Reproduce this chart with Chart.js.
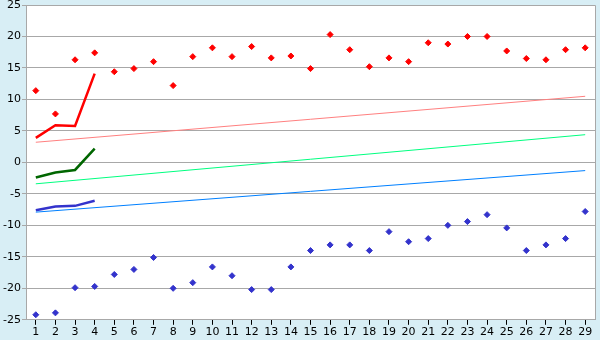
<!DOCTYPE html>
<html>
<head>
<meta charset="utf-8">
<script src="https://cdn.jsdelivr.net/npm/chart.js@4"></script>
<style>
  html, body { margin: 0; padding: 0; background: #d8eef5; }
  #wrap { width: 600px; height: 340px; }
</style>
</head>
<body>
<div id="wrap"><canvas id="c" width="600" height="340"></canvas></div>
<script>
const categories = ['1','2','3','4','5','6','7','8','9','10','11','12','13','14','15','16','17','18','19','20','21','22','23','24','25','26','27','28','29'];
const maxPoints = [11.4, 7.7, 16.3, 17.4, 14.4, 14.9, 16.0, 12.2, 16.8, 18.2, 16.8, 18.4, 16.6, 16.9, 14.9, 20.3, 17.9, 15.2, 16.6, 16.0, 19.0, 18.8, 20.0, 20.0, 17.7, 16.5, 16.3, 17.9, 18.2];
const minPoints = [-24.2, -23.9, -19.9, -19.7, -17.8, -17.0, -15.1, -20.0, -19.1, -16.6, -18.0, -20.2, -20.2, -16.6, -14.0, -13.1, -13.1, -14.0, -11.0, -12.6, -12.1, -10.0, -9.4, -8.3, -10.4, -14.0, -13.1, -12.1, -7.8];
const maxLine = [3.9, 5.9, 5.8, 14.1];
const avgLine = [-2.4, -1.6, -1.2, 2.2];
const minLine = [-7.6, -7.0, -6.9, -6.1];
const trendEnds = ['1', '29'];
const maxTrend = [3.2, 10.5];
const avgTrend = [-3.4, 4.4];
const minTrend = [-7.9, -1.3];
const yMin = -25, yMax = 25, yStep = 5;

function trend(vals) {
  return trendEnds.map((x, i) => ({ x: x, y: vals[i] }));
}

const bgPlugin = {
  id: 'bg',
  beforeDraw(chart) {
    const { ctx, chartArea: a } = chart;
    ctx.save();
    ctx.fillStyle = '#d8eef5';
    ctx.fillRect(0, 0, chart.width, chart.height);
    ctx.fillStyle = '#ffffff';
    ctx.fillRect(a.left, a.top, a.right - a.left, a.bottom - a.top);
    ctx.restore();
  },
  afterDatasetsDraw(chart) {
    const { ctx, chartArea: a } = chart;
    ctx.save();
    ctx.strokeStyle = '#a8a8a8';
    ctx.lineWidth = 1;
    ctx.beginPath();
    ctx.moveTo(a.left, a.top + 0.5);
    ctx.lineTo(a.right + 0.5, a.top + 0.5);
    ctx.lineTo(a.right + 0.5, a.bottom);
    ctx.stroke();
    ctx.restore();
  }
};

Chart.defaults.font.family = '"DejaVu Sans", Verdana, sans-serif';
Chart.defaults.font.size = 11;
Chart.defaults.color = '#000000';

new Chart(document.getElementById('c'), {
  type: 'line',
  data: {
    labels: categories,
    datasets: [
      { data: trend(maxTrend), borderColor: '#ff8080', borderWidth: 1, pointRadius: 0, fill: false },
      { data: trend(avgTrend), borderColor: '#00ff80', borderWidth: 1, pointRadius: 0, fill: false },
      { data: trend(minTrend), borderColor: '#0080ff', borderWidth: 1, pointRadius: 0, fill: false },
      { data: maxLine, borderColor: '#ff0000', borderWidth: 2.5, pointRadius: 0, fill: false },
      { data: avgLine, borderColor: '#006600', borderWidth: 2.5, pointRadius: 0, fill: false },
      { data: minLine, borderColor: '#3333cc', borderWidth: 2.5, pointRadius: 0, fill: false },
      { data: maxPoints, showLine: false, pointStyle: 'rectRot', pointRadius: 3, pointBackgroundColor: '#ff0000', pointBorderColor: '#ff0000', pointBorderWidth: 1 },
      { data: minPoints, showLine: false, pointStyle: 'rectRot', pointRadius: 3, pointBackgroundColor: '#3333cc', pointBorderColor: '#3333cc', pointBorderWidth: 1 }
    ]
  },
  options: {
    responsive: false,
    animation: false,
    layout: { padding: { left: 2, right: 5, top: 5, bottom: 0 } },
    plugins: { legend: { display: false }, title: { display: false }, tooltip: { enabled: false } },
    scales: {
      x: {
        type: 'category',
        offset: true,
        grid: { display: true, drawOnChartArea: false, drawTicks: true, tickLength: 5, color: '#000000' },
        border: { display: true, color: '#a8a8a8' },
        ticks: { padding: 1, maxRotation: 0, autoSkip: false }
      },
      y: {
        min: yMin, max: yMax,
        ticks: { stepSize: yStep, padding: 1 },
        grid: { color: '#a8a8a8', tickLength: 4, drawTicks: true },
        border: { display: true, color: '#a8a8a8' },
        afterFit(scale) { scale.width = 24; scale.paddingTop = 0; scale.paddingBottom = 0; }
      }
    }
  },
  plugins: [bgPlugin]
});
</script>
</body>
</html>
